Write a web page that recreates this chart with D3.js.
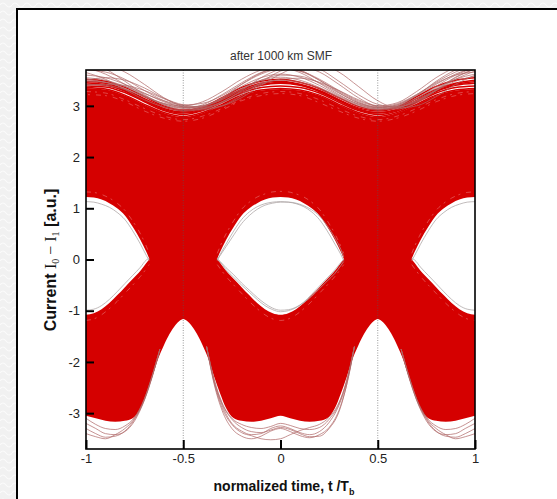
<!DOCTYPE html>
<html><head><meta charset="utf-8">
<script src="https://cdn.jsdelivr.net/npm/d3@7"></script>
<style>html,body{margin:0;padding:0;background:#fff;} svg{display:block;}</style>
</head><body>
<svg id="chart" width="557" height="499"></svg>
<script>
// ---- data: eye diagram after 1000 km SMF ----
const tGrid = [-1,-0.9,-0.8,-0.7,-0.6,-0.5,-0.4,-0.3,-0.2,-0.1,0,0.1,0.2,0.3,0.4,0.5,0.6,0.7,0.8,0.9,1];

// upper edge of the dense trace band
const topEnvelope = [3.35,3.32,3.2,3.02,2.86,2.78,2.86,3.02,3.2,3.3,3.33,3.3,3.2,3.02,2.86,2.78,2.86,3.02,3.2,3.3,3.33];

// lower edge of the dense trace band (with the gaps at the bit borders)
const bottomT = [-1,-0.95,-0.9,-0.85,-0.8,-0.76,-0.72,-0.69,-0.66,-0.63,-0.6,-0.57,-0.54,-0.52,-0.5,-0.48,-0.46,-0.43,-0.4,-0.37,-0.34,-0.31,-0.28,-0.24,-0.2,-0.15,-0.1,-0.05,0,
  0.05,0.1,0.15,0.2,0.24,0.28,0.31,0.34,0.37,0.4,0.43,0.46,0.48,0.5,0.52,0.54,0.57,0.6,0.63,0.66,0.69,0.72,0.76,0.8,0.85,0.9,0.95,1];
const bottomEnvelope = [-3.05,-3.1,-3.15,-3.17,-3.15,-3.1,-2.9,-2.62,-2.3,-1.95,-1.68,-1.45,-1.28,-1.2,-1.16,-1.2,-1.28,-1.45,-1.68,-1.95,-2.3,-2.62,-2.9,-3.1,-3.15,-3.17,-3.15,-3.1,-3.05,
  -3.1,-3.15,-3.17,-3.15,-3.1,-2.9,-2.62,-2.3,-1.95,-1.68,-1.45,-1.28,-1.2,-1.16,-1.2,-1.28,-1.45,-1.68,-1.95,-2.3,-2.62,-2.9,-3.1,-3.15,-3.17,-3.15,-3.1,-3.05];

// eye openings
const leftEyeT = [-1,-0.96,-0.92,-0.88,-0.84,-0.8,-0.76,-0.72,-0.69,-0.675];
const leftEyeTop = [1.22,1.21,1.17,1.1,1.0,0.86,0.64,0.38,0.15,0.02];
const leftEyeBottom = [-1.08,-1.05,-0.97,-0.85,-0.7,-0.54,-0.38,-0.22,-0.07,0.0];

const centerEyeT = [-0.325,-0.31,-0.28,-0.24,-0.2,-0.16,-0.12,-0.08,-0.04,0,0.04,0.08,0.12,0.16,0.2,0.24,0.28,0.31,0.325];
const centerEyeTop = [0.02,0.15,0.38,0.64,0.86,1.0,1.1,1.17,1.21,1.22,1.21,1.17,1.1,1.0,0.86,0.64,0.38,0.15,0.02];
const centerEyeBottom = [0.0,-0.07,-0.22,-0.38,-0.54,-0.7,-0.85,-0.97,-1.05,-1.08,-1.05,-0.97,-0.85,-0.7,-0.54,-0.38,-0.22,-0.07,0.0];

const rightEyeT = [0.675,0.69,0.72,0.76,0.8,0.84,0.88,0.92,0.96,1];
const rightEyeTop = [0.02,0.15,0.38,0.64,0.86,1.0,1.1,1.17,1.21,1.22];
const rightEyeBottom = [0.0,-0.07,-0.22,-0.38,-0.54,-0.7,-0.85,-0.97,-1.05,-1.08];

// sparse traces above the dense band
const upperTraces = [
  [3.75,3.62,3.42,3.2,3.02,2.95,3.02,3.22,3.45,3.65,3.75,3.68,3.5,3.28,3.08,2.97,3.02,3.2,3.42,3.62,3.75],
  [3.6,3.55,3.42,3.25,3.08,2.98,3.0,3.12,3.32,3.5,3.6,3.58,3.45,3.25,3.06,2.96,3.0,3.15,3.35,3.52,3.62],
  [3.5,3.55,3.5,3.35,3.15,3.02,2.98,3.08,3.3,3.55,3.72,3.8,3.72,3.48,3.22,3.03,2.98,3.08,3.3,3.52,3.68],
  [3.42,3.4,3.32,3.18,3.04,2.96,3.0,3.16,3.38,3.55,3.62,3.56,3.4,3.2,3.04,2.96,3.02,3.22,3.46,3.66,3.8],
  [3.85,3.72,3.48,3.22,3.02,2.92,2.98,3.15,3.42,3.64,3.74,3.65,3.44,3.22,3.03,2.94,3.0,3.2,3.48,3.7,3.82],
  [3.55,3.5,3.38,3.2,3.05,3.0,3.08,3.28,3.52,3.7,3.78,3.7,3.5,3.26,3.06,2.98,3.04,3.22,3.44,3.6,3.66],
  [3.7,3.66,3.52,3.3,3.1,2.98,2.96,3.06,3.24,3.42,3.52,3.54,3.46,3.3,3.12,3.0,2.98,3.1,3.32,3.56,3.72],
  [3.48,3.46,3.38,3.24,3.1,3.02,3.05,3.2,3.42,3.62,3.72,3.68,3.52,3.3,3.1,3.0,3.06,3.28,3.55,3.75,3.85],
  [3.65,3.52,3.32,3.12,2.98,2.9,2.94,3.08,3.28,3.44,3.5,3.46,3.34,3.16,3.0,2.92,2.96,3.1,3.3,3.48,3.58],
  [3.4,3.42,3.4,3.3,3.14,3.0,2.95,3.0,3.16,3.4,3.62,3.78,3.82,3.66,3.38,3.1,2.96,3.0,3.18,3.42,3.6],
  [3.78,3.8,3.66,3.42,3.16,2.98,2.92,3.0,3.2,3.46,3.68,3.76,3.66,3.42,3.16,2.98,2.94,3.06,3.3,3.55,3.72],
  [3.52,3.46,3.34,3.18,3.04,2.97,3.0,3.14,3.34,3.5,3.56,3.5,3.36,3.18,3.02,2.94,2.98,3.14,3.38,3.6,3.74]
];

// red traces fringing the top of the dense band
const fringeTraces = [
  [3.36,3.33,3.21,3.03,2.87,2.79,2.87,3.03,3.21,3.31,3.34,3.31,3.21,3.03,2.87,2.79,2.87,3.03,3.21,3.31,3.34],
  [3.39,3.37,3.26,3.08,2.91,2.83,2.91,3.07,3.25,3.36,3.39,3.36,3.25,3.07,2.91,2.83,2.9,3.07,3.25,3.36,3.39],
  [3.42,3.4,3.3,3.12,2.95,2.88,2.94,3.1,3.28,3.4,3.44,3.4,3.28,3.1,2.94,2.87,2.93,3.1,3.28,3.4,3.44],
  [3.45,3.41,3.29,3.1,2.93,2.86,2.92,3.11,3.3,3.41,3.46,3.41,3.29,3.11,2.93,2.86,2.92,3.1,3.29,3.42,3.47],
  [3.48,3.44,3.32,3.14,2.98,2.9,2.96,3.14,3.32,3.44,3.48,3.42,3.3,3.12,2.96,2.9,2.96,3.14,3.32,3.44,3.5],
  [3.52,3.48,3.36,3.18,3.0,2.92,2.98,3.16,3.36,3.48,3.52,3.46,3.34,3.16,2.99,2.92,2.98,3.18,3.38,3.5,3.55]
];
// pale streaks just inside the top of the dense band
const paleTopStreaks = [
  [3.28,3.25,3.12,2.95,2.8,2.73,2.8,2.95,3.12,3.24,3.28,3.24,3.12,2.95,2.8,2.73,2.8,2.95,3.12,3.24,3.28],
  [3.22,3.2,3.08,2.9,2.76,2.7,2.76,2.92,3.1,3.2,3.24,3.2,3.06,2.9,2.76,2.7,2.76,2.9,3.08,3.2,3.24]
];

// sparse traces below the dense band, one group per bit slot
const leftBlobT = [-1,-0.95,-0.9,-0.85,-0.8,-0.75,-0.7,-0.66,-0.62];
const leftLowerTraces = [
  [-3.2,-3.3,-3.4,-3.42,-3.36,-3.15,-2.75,-2.3,-1.75],
  [-3.3,-3.4,-3.47,-3.45,-3.35,-3.12,-2.74,-2.28,-1.75],
  [-3.1,-3.22,-3.3,-3.32,-3.25,-3.08,-2.72,-2.27,-1.75],
  [-3.4,-3.46,-3.5,-3.42,-3.3,-3.1,-2.73,-2.28,-1.75]
];
const centerBlobT = [-0.38,-0.34,-0.3,-0.25,-0.2,-0.15,-0.1,-0.05,0,0.05,0.1,0.15,0.2,0.25,0.3,0.34,0.38];
const centerLowerTraces = [
  [-1.7,-2.45,-2.95,-3.3,-3.45,-3.5,-3.45,-3.35,-3.3,-3.36,-3.44,-3.48,-3.42,-3.28,-2.95,-2.45,-1.7],
  [-1.7,-2.4,-2.85,-3.2,-3.35,-3.42,-3.4,-3.3,-3.25,-3.3,-3.38,-3.42,-3.36,-3.18,-2.85,-2.4,-1.7],
  [-1.7,-2.42,-2.9,-3.22,-3.38,-3.44,-3.5,-3.52,-3.5,-3.42,-3.34,-3.28,-3.22,-3.08,-2.8,-2.38,-1.7],
  [-1.7,-2.38,-2.82,-3.12,-3.28,-3.36,-3.38,-3.33,-3.28,-3.32,-3.4,-3.46,-3.45,-3.3,-2.98,-2.45,-1.7],
  [-1.7,-2.35,-2.8,-3.1,-3.22,-3.28,-3.3,-3.26,-3.2,-3.24,-3.3,-3.32,-3.28,-3.12,-2.82,-2.36,-1.7]
];
const rightBlobT = [0.62,0.66,0.7,0.75,0.8,0.85,0.9,0.95,1];
const rightLowerTraces = [
  [-1.75,-2.3,-2.75,-3.15,-3.36,-3.42,-3.4,-3.3,-3.2],
  [-1.75,-2.28,-2.74,-3.12,-3.35,-3.45,-3.47,-3.4,-3.3],
  [-1.75,-2.27,-2.72,-3.08,-3.25,-3.32,-3.3,-3.22,-3.1],
  [-1.75,-2.28,-2.73,-3.1,-3.3,-3.42,-3.5,-3.46,-3.4]
];

// grey traces running along the inside of each eye
const centerEdgeTraces = [
  [-0.02,0.1,0.3,0.56,0.78,0.93,1.03,1.09,1.12,1.13,1.12,1.09,1.03,0.93,0.78,0.56,0.3,0.1,-0.02],
  [0.0,0.08,0.25,0.48,0.7,0.86,0.98,1.06,1.1,1.12,1.12,1.1,1.05,0.97,0.85,0.66,0.42,0.2,0.05],
  [0.02,-0.04,-0.16,-0.3,-0.46,-0.6,-0.74,-0.86,-0.95,-0.99,-0.98,-0.93,-0.84,-0.72,-0.57,-0.42,-0.27,-0.12,-0.04],
  [0.0,-0.05,-0.2,-0.35,-0.5,-0.64,-0.78,-0.9,-0.98,-1.02,-1.0,-0.94,-0.83,-0.68,-0.52,-0.36,-0.2,-0.06,0.0]
];
const leftEdgeTraces = [
  [1.13,1.12,1.08,1.02,0.92,0.78,0.56,0.3,0.08,-0.02],
  [-0.99,-0.97,-0.9,-0.78,-0.63,-0.47,-0.31,-0.15,-0.01,0.02]
];
const rightEdgeTraces = [
  [-0.02,0.08,0.3,0.56,0.78,0.92,1.02,1.08,1.12,1.13],
  [0.02,-0.01,-0.15,-0.31,-0.47,-0.63,-0.78,-0.9,-0.97,-0.99]
];
// pale streaks in the dense band just outside each eye
const centerPaleStreaks = [
  [0.12,0.26,0.5,0.76,0.98,1.12,1.22,1.28,1.32,1.33,1.32,1.28,1.22,1.12,0.98,0.76,0.5,0.26,0.12],
  [-0.1,-0.18,-0.33,-0.5,-0.66,-0.82,-0.96,-1.08,-1.16,-1.19,-1.16,-1.08,-0.96,-0.82,-0.66,-0.5,-0.33,-0.18,-0.1]
];
const leftPaleStreaks = [
  [1.32,1.31,1.27,1.2,1.1,0.96,0.75,0.5,0.26,0.12],
  [-1.19,-1.16,-1.08,-0.96,-0.82,-0.66,-0.5,-0.33,-0.18,-0.1]
];
const rightPaleStreaks = [
  [0.12,0.26,0.5,0.75,0.96,1.1,1.2,1.27,1.31,1.32],
  [-0.1,-0.18,-0.33,-0.5,-0.66,-0.82,-0.96,-1.08,-1.16,-1.19]
];

const xTicks = [-1,-0.5,0,0.5,1];
const xTickLabels = ["-1","-0.5","0","0.5","1"];
const yTicks = [-3,-2,-1,0,1,2,3];
const yTickLabels = ["-3","-2","-1","0","1","2","3"];
const gridTimes = [-0.5,0.5];
const titleText = "after 1000 km SMF";

// ---- drawing ----
const svg = d3.select("#chart");
const W = 557, H = 499;
const plot = {left: 86, right: 475, top: 70, bottom: 449};
const x = d3.scaleLinear().domain([-1,1]).range([plot.left, plot.right]);
const y = d3.scaleLinear().domain([-3.7,3.7]).range([plot.bottom, plot.top]);

const RED = "#d50000";
const TRACE = "#b06868";

// page background with a faint wave texture, then the white frame
const defs = svg.append("defs");
const pat = defs.append("pattern").attr("id","wave").attr("width",12).attr("height",8).attr("patternUnits","userSpaceOnUse");
pat.append("rect").attr("width",12).attr("height",8).attr("fill","#f1f1f1");
pat.append("path").attr("d","M0,5 Q3,1 6,5 T12,5").attr("fill","none").attr("stroke","#fbfbfb").attr("stroke-width",1.2);
svg.append("rect").attr("width",W).attr("height",H).attr("fill","url(#wave)");
svg.append("rect").attr("x",17).attr("y",9).attr("width",W+20).attr("height",H+20)
  .attr("fill","#fff").attr("stroke","#000").attr("stroke-width",2);

defs.append("clipPath").attr("id","plotClip").append("rect")
  .attr("x",plot.left).attr("y",plot.top).attr("width",plot.right-plot.left).attr("height",plot.bottom-plot.top);

const g = svg.append("g").attr("clip-path","url(#plotClip)");

const zip = (ts, vs) => ts.map((t,i) => [t, vs[i]]);
const line = d3.line().x(d => x(d[0])).y(d => y(d[1])).curve(d3.curveMonotoneX);
const bandArea = d3.area().x(d => x(d[0])).y0(y(-3.9)).y1(d => y(d[1])).curve(d3.curveMonotoneX);

// dense band: red from the top envelope down, gaps cut out in white
g.append("path").attr("d", bandArea(zip(tGrid, topEnvelope))).attr("fill", RED);
g.append("path").attr("d", bandArea(zip(bottomT, bottomEnvelope))).attr("fill", "#fff");

const eyes = [
  [leftEyeT, leftEyeTop, leftEyeBottom],
  [centerEyeT, centerEyeTop, centerEyeBottom],
  [rightEyeT, rightEyeTop, rightEyeBottom]
];
eyes.forEach(([ts, top, bot]) => {
  const pts = ts.map((t,i) => ({t, a: top[i], b: bot[i]}));
  g.append("path")
    .attr("d", d3.area().x(d => x(d.t)).y0(d => y(d.b)).y1(d => y(d.a)).curve(d3.curveMonotoneX)(pts))
    .attr("fill", "#fff");
});

// red fringe above the band
const fringe = g.append("g").attr("fill","none").attr("stroke",RED).attr("stroke-width",1.5);
fringeTraces.forEach(v => fringe.append("path").attr("d", line(zip(tGrid, v))));

// pale streaks inside the red
const pale = g.append("g").attr("fill","none").attr("stroke","#f0a8a8").attr("stroke-width",0.7)
  .attr("stroke-opacity",0.6).attr("stroke-dasharray","5,4,2,6");
paleTopStreaks.forEach((v,i) => pale.append("path").attr("d", line(zip(tGrid, v))).attr("stroke-dashoffset", i*7));
centerPaleStreaks.forEach(v => pale.append("path").attr("d", line(zip(centerEyeT, v))));
leftPaleStreaks.forEach(v => pale.append("path").attr("d", line(zip(leftEyeT, v))));
rightPaleStreaks.forEach(v => pale.append("path").attr("d", line(zip(rightEyeT, v))));

// sparse traces
const traceGroup = g.append("g").attr("fill","none").attr("stroke",TRACE).attr("stroke-width",0.9).attr("stroke-opacity",0.8);
upperTraces.forEach(v => traceGroup.append("path").attr("d", line(zip(tGrid, v))));
leftLowerTraces.forEach(v => traceGroup.append("path").attr("d", line(zip(leftBlobT, v))));
centerLowerTraces.forEach(v => traceGroup.append("path").attr("d", line(zip(centerBlobT, v))));
rightLowerTraces.forEach(v => traceGroup.append("path").attr("d", line(zip(rightBlobT, v))));

const edgeGroup = g.append("g").attr("fill","none").attr("stroke","#a8a0a0").attr("stroke-width",0.9).attr("stroke-opacity",0.8);
centerEdgeTraces.forEach(v => edgeGroup.append("path").attr("d", line(zip(centerEyeT, v))));
leftEdgeTraces.forEach(v => edgeGroup.append("path").attr("d", line(zip(leftEyeT, v))));
rightEdgeTraces.forEach(v => edgeGroup.append("path").attr("d", line(zip(rightEyeT, v))));

// dotted grid at the bit borders
g.selectAll("line.grid").data(gridTimes).join("line").attr("class","grid")
  .attr("x1", d => x(d)).attr("x2", d => x(d)).attr("y1", plot.top).attr("y2", plot.bottom)
  .attr("stroke","#555").attr("stroke-opacity",0.6).attr("stroke-width",1).attr("stroke-dasharray","1,1.5");

// axes
const xAxis = d3.axisBottom(x).tickValues(xTicks).tickFormat((d,i) => xTickLabels[i]).tickSize(-9).tickPadding(5);
const yAxis = d3.axisLeft(y).tickValues(yTicks).tickFormat((d,i) => yTickLabels[i]).tickSize(-8).tickPadding(6);
const gx = svg.append("g").attr("transform",`translate(0,${plot.bottom})`).call(xAxis);
const gy = svg.append("g").attr("transform",`translate(${plot.left},0)`).call(yAxis);
[gx, gy].forEach(a => {
  a.select(".domain").remove();
  a.selectAll(".tick line").attr("stroke","#000").attr("stroke-width",2);
  a.selectAll(".tick text").attr("font-family","'Liberation Sans', Arial, sans-serif").attr("font-size",13).attr("fill","#222");
});

svg.append("rect").attr("x",plot.left).attr("y",plot.top).attr("width",plot.right-plot.left).attr("height",plot.bottom-plot.top)
  .attr("fill","none").attr("stroke","#000").attr("stroke-width",1.6);

// title
svg.append("text").attr("x", 281).attr("y", 60).attr("text-anchor","middle")
  .attr("font-family","'Liberation Sans', Arial, sans-serif").attr("font-size",12).attr("fill","#333").text(titleText);

// x label
const xl = svg.append("text").attr("x", 284).attr("y", 491).attr("text-anchor","middle")
  .attr("font-family","'Liberation Sans', Arial, sans-serif").attr("font-size",14).attr("font-weight","bold").attr("fill","#111");
xl.append("tspan").text("normalized time, t /T");
xl.append("tspan").attr("font-size",9).attr("dy",4).text("b");

// y label
const yl = svg.append("text").attr("transform","translate(56,260) rotate(-90)").attr("text-anchor","middle")
  .attr("font-family","'Liberation Sans', Arial, sans-serif").attr("font-size",16).attr("fill","#111");
yl.append("tspan").attr("font-weight","bold").text("Current ");
yl.append("tspan").attr("font-family","'Liberation Serif', 'Times New Roman', serif").text("I");
yl.append("tspan").attr("font-family","'Liberation Serif', serif").attr("font-size",10).attr("dy",3).text("0");
yl.append("tspan").attr("font-family","'Liberation Serif', serif").attr("dy",-3).text(" \u2212 I");
yl.append("tspan").attr("font-family","'Liberation Serif', serif").attr("font-size",10).attr("dy",3).text("1");
yl.append("tspan").attr("font-weight","bold").attr("dy",-3).text(" [a.u.]");
</script>
</body></html>
